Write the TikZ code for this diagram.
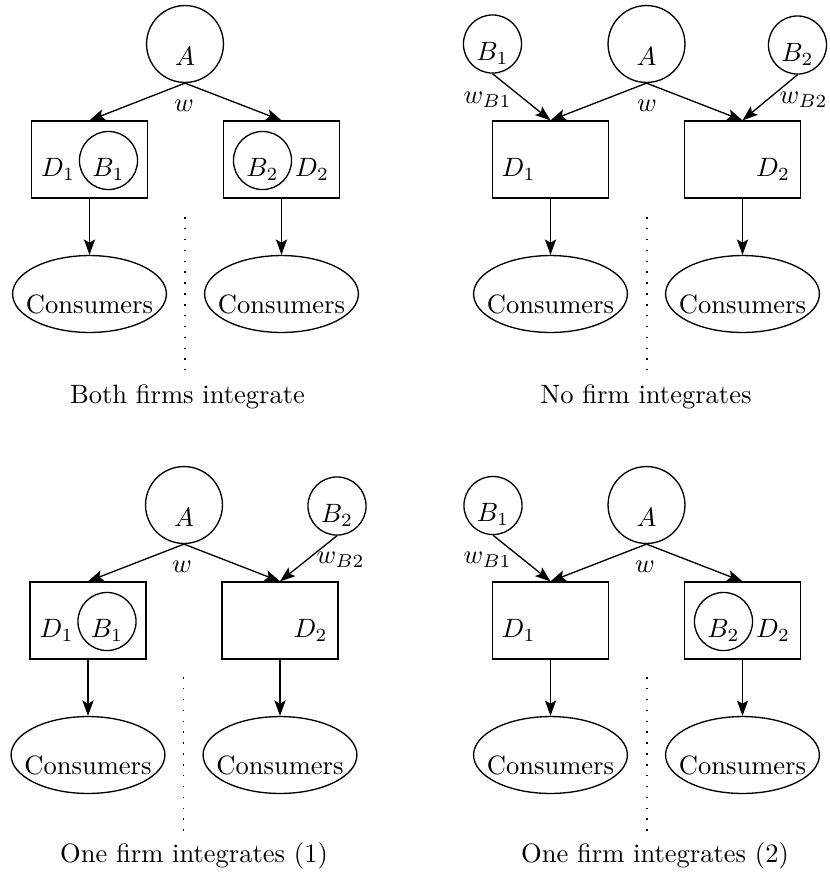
\documentclass[tikz,border=0pt]{standalone}
\usetikzlibrary{shapes.geometric,arrows.meta}

\tikzset{
    upstream/.style={draw, circle, minimum size=29pt, inner sep=0pt},
    rival/.style={draw, circle, minimum size=21.9pt, inner sep=0pt},
    retailer/.style={draw, rectangle, minimum width=43.7pt, minimum height=29pt, inner sep=0pt},
    market/.style={draw, ellipse, minimum width=58pt, minimum height=29pt, inner sep=0pt},
    flow/.style={-{Stealth[length=5.8pt,width=4.2pt,inset=1.2pt]}},
    divider/.style={dash pattern=on 0.6pt off 3.5pt},
}

\begin{document}
\begin{tikzpicture}[x=0.377pt, y=-0.377pt, line width=0.5pt]
    \useasboundingbox (0,0) rectangle (830,876);

    % both firms integrate
    \begin{scope}[name prefix=both-]
        \node[upstream] (A) at (185,44) {};
        \node (At) at (185,56) {$A$};
        \node[retailer] (D1) at (89.5,159.5) {};
        \node[retailer] (D2) at (281.5,159.5) {};
        \node[rival] (B1) at (108.5,160.5) {};
        \node[rival] (B2) at (262.5,160.5) {};
        \node (D1t) at (58,169) {$D_1$};
        \node (B1t) at (108.5,169) {$B_1$};
        \node (B2t) at (262.5,169) {$B_2$};
        \node (D2t) at (312,169) {$D_2$};
        \node[market] (C1) at (89.5,294) {};
        \node[market] (C2) at (281.5,294) {};
        \node (C1t) at (89.5,304) {Consumers};
        \node (C2t) at (281.5,304) {Consumers};
        \draw[flow] (A.south) -- (D1.north);
        \draw[flow] (A.south) -- (D2.north);
        \node (w) at (184,106) {$w$};
        \draw[flow] (D1.south) -- (C1.north);
        \draw[flow] (D2.south) -- (C2.north);
        \draw[divider] (185,217) -- (185,370);
        \node (cap) at (187.5,397) {Both firms integrate};
    \end{scope}

    % no firm integrates
    \begin{scope}[shift={(461,0)}, name prefix=none-]
        \node[upstream] (A) at (185.5,44) {};
        \node (At) at (185.5,56) {$A$};
        \node[rival] (B1) at (31.5,44) {};
        \node (B1t) at (31.5,53) {$B_1$};
        \node[rival] (B2) at (336.5,45) {};
        \node (B2t) at (336.5,54) {$B_2$};
        \node[retailer] (D1) at (89.5,159.5) {};
        \node[retailer] (D2) at (281.5,159.5) {};
        \node (D1t) at (57.5,169) {$D_1$};
        \node (D2t) at (312,169) {$D_2$};
        \node[market] (C1) at (89.5,294) {};
        \node[market] (C2) at (281.5,294) {};
        \node (C1t) at (89.5,304) {Consumers};
        \node (C2t) at (281.5,304) {Consumers};
        \draw[flow] (A.south) -- (D1.north);
        \draw[flow] (A.south) -- (D2.north);
        \draw[flow] (B1.south) -- (D1.north);
        \draw[flow] (B2.south) -- (D2.north);
        \node (w) at (186,106) {$w$};
        \node (wB1) at (26.5,100) {$w_{B1}$};
        \node (wB2) at (342.5,100) {$w_{B2}$};
        \draw[flow] (D1.south) -- (C1.north);
        \draw[flow] (D2.south) -- (C2.north);
        \draw[divider] (186,217) -- (186,370);
        \node (cap) at (185,397) {No firm integrates};
    \end{scope}

    % one firm integrates (1)
    \begin{scope}[shift={(-1.5,461)}, name prefix=one-]
        \node[upstream] (A) at (185.5,44) {};
        \node (At) at (185.5,56) {$A$};
        \node[rival] (B2) at (338.5,45) {};
        \node (B2t) at (338.5,54) {$B_2$};
        \node[retailer] (D1) at (89.5,159.5) {};
        \node[retailer] (D2) at (281.5,159.5) {};
        \node[rival] (B1) at (108.5,160.5) {};
        \node (D1t) at (58,169) {$D_1$};
        \node (B1t) at (108.5,169) {$B_1$};
        \node (D2t) at (312,169) {$D_2$};
        \node[market] (C1) at (89.5,294) {};
        \node[market] (C2) at (281.5,294) {};
        \node (C1t) at (89.5,304) {Consumers};
        \node (C2t) at (281.5,304) {Consumers};
        \draw[flow] (A.south) -- (D1.north);
        \draw[flow] (A.south) -- (D2.north);
        \draw[flow] (B2.south) -- (D2.north);
        \node (w) at (183.5,106) {$w$};
        \node (wB2) at (342,99) {$w_{B2}$};
        \draw[flow] (D1.south) -- (C1.north);
        \draw[flow] (D2.south) -- (C2.north);
        \draw[divider] (185,216) -- (185,371);
        \node (cap) at (195.5,394.5) {One firm integrates (1)};
    \end{scope}

    % one firm integrates (2)
    \begin{scope}[shift={(461,461)}, name prefix=two-]
        \node[upstream] (A) at (185.5,44) {};
        \node (At) at (185.5,56) {$A$};
        \node[rival] (B1) at (32,44.5) {};
        \node (B1t) at (32,53.5) {$B_1$};
        \node[retailer] (D1) at (89.5,159.5) {};
        \node[retailer] (D2) at (281.5,159.5) {};
        \node[rival] (B2) at (262.5,160.5) {};
        \node (D1t) at (57.5,169) {$D_1$};
        \node (B2t) at (262.5,169) {$B_2$};
        \node (D2t) at (312,169) {$D_2$};
        \node[market] (C1) at (89.5,294) {};
        \node[market] (C2) at (281.5,294) {};
        \node (C1t) at (89.5,304) {Consumers};
        \node (C2t) at (281.5,304) {Consumers};
        \draw[flow] (A.south) -- (D1.north);
        \draw[flow] (A.south) -- (D2.north);
        \draw[flow] (B1.south) -- (D1.north);
        \node (w) at (184,106) {$w$};
        \node (wB1) at (26.5,99) {$w_{B1}$};
        \draw[flow] (D1.south) -- (C1.north);
        \draw[flow] (D2.south) -- (C2.north);
        \draw[divider] (186,216) -- (186,371);
        \node (cap) at (194,394.5) {One firm integrates (2)};
    \end{scope}
\end{tikzpicture}
\end{document}
